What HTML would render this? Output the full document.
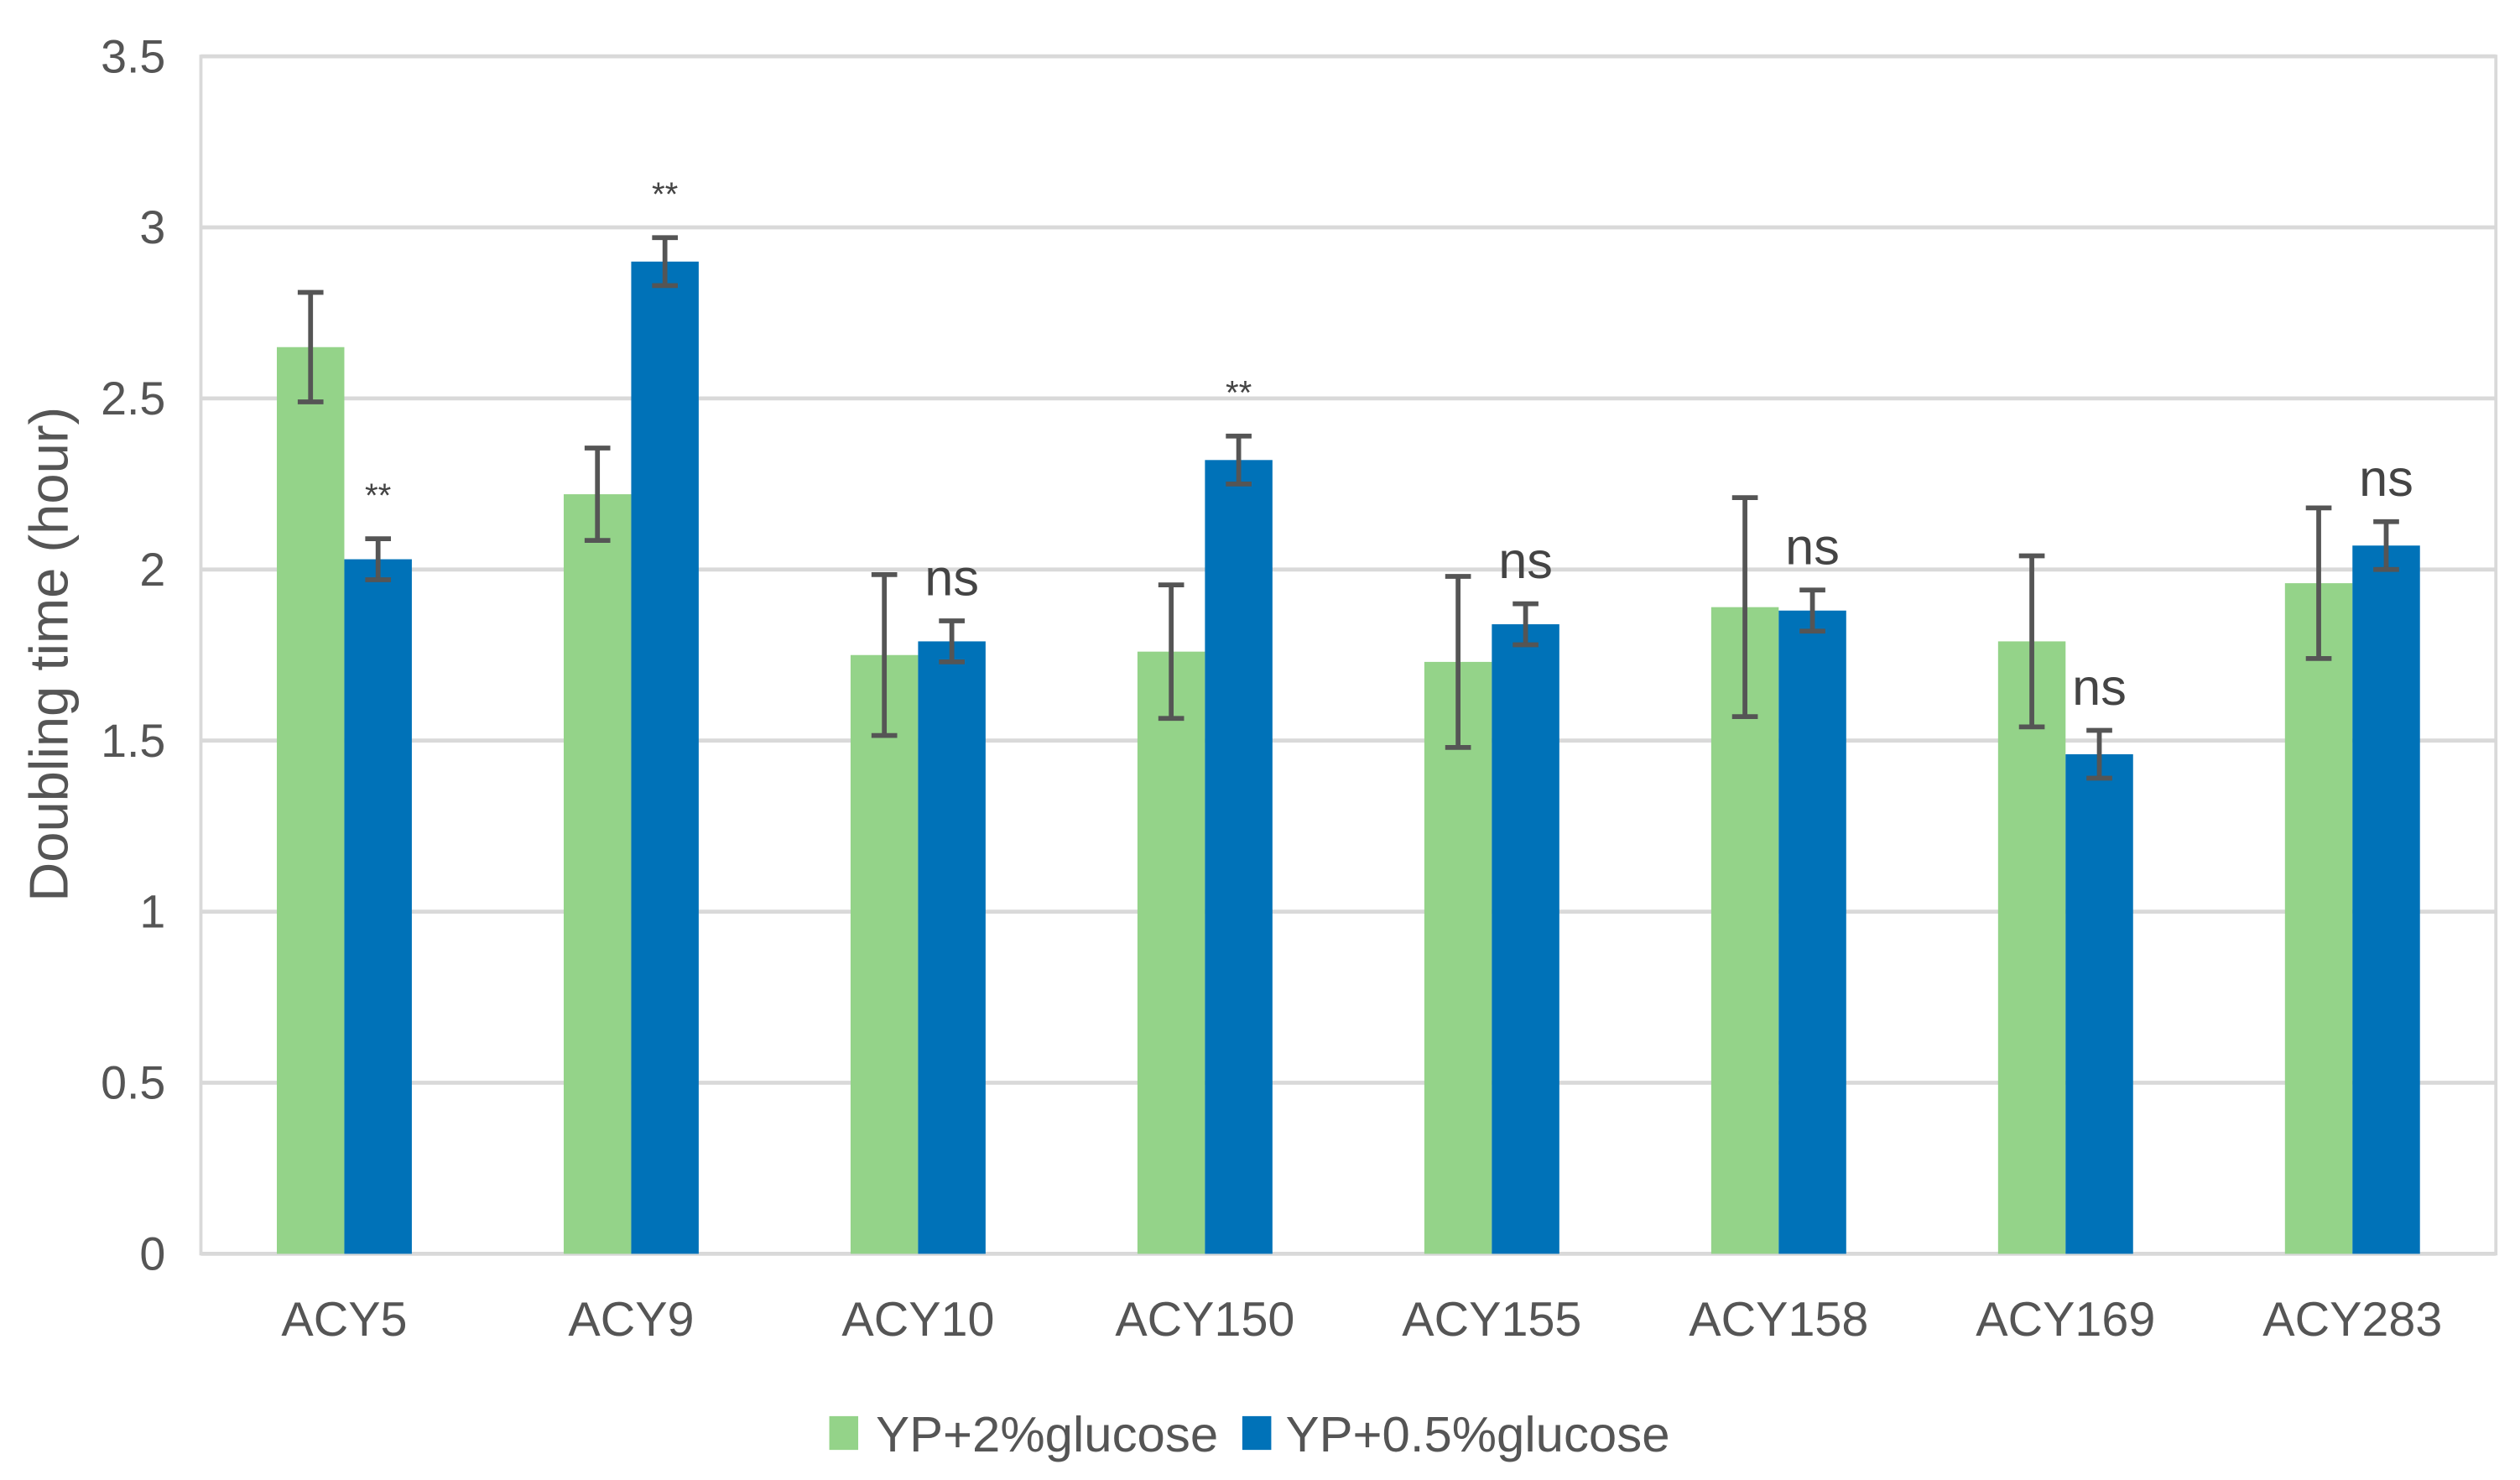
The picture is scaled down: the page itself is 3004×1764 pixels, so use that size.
<!DOCTYPE html>
<html><head><meta charset="utf-8"><style>
html,body{margin:0;padding:0;background:#fff;}
svg{display:block;font-family:"Liberation Sans",Arial,sans-serif;}
</style></head><body>
<svg id="chart" width="3004" height="1764" viewBox="0 0 1568 920.7" xmlns="http://www.w3.org/2000/svg"></svg>
<script>
const categories = ["ACY5","ACY9","ACY10","ACY150","ACY155","ACY158","ACY169","ACY283"];
const greenValues = [2.65,2.22,1.75,1.76,1.73,1.89,1.79,1.96];
const greenErrors = [0.16,0.135,0.235,0.195,0.25,0.32,0.25,0.22];
const blueValues = [2.03,2.90,1.79,2.32,1.84,1.88,1.46,2.07];
const blueErrors = [0.06,0.07,0.06,0.07,0.06,0.06,0.07,0.07];
const sigLabels = ["**","**","ns","**","ns","ns","ns","ns"];
const yTicks = [0,0.5,1,1.5,2,2.5,3,3.5];
const yTickLabels = ["0","0.5","1","1.5","2","2.5","3","3.5"];
const seriesNames = ["YP+2%glucose","YP+0.5%glucose"];

const svg = document.getElementById('chart');
const NS = 'http://www.w3.org/2000/svg';
const L=125, R=1553, T=35, B=780, yMax=3.5;
const y = v => B - (v / yMax) * (B - T);
const band = (R - L) / categories.length;
const xc = i => L + band * (i + 0.5);
const barW = 42;
function mk(tag, attrs, parent){
  const e = document.createElementNS(NS, tag);
  for (const k in attrs) e.setAttribute(k, attrs[k]);
  (parent || svg).appendChild(e);
  return e;
}
yTicks.forEach((t,i)=>{
  const g = mk('line',{x1:L,x2:R,y1:y(t),y2:y(t),stroke:'#d9d9d9','stroke-width':2.5});
  
  
  const lab = mk('text',{x:103,y:y(t)+10,'text-anchor':'end','font-size':29,fill:'#555'});
  lab.textContent = yTickLabels[i];
  
  
});
const frame = mk('rect',{x:L,y:T,width:R-L,height:B-T,fill:'none',stroke:'#d9d9d9','stroke-width':2});


categories.forEach((c,i)=>{
  const cx = xc(i);
  const gb = mk('rect',{x:cx-barW,y:y(greenValues[i]),width:barW,height:B-y(greenValues[i]),fill:'#94d389'});
  
  
  const bb = mk('rect',{x:cx,y:y(blueValues[i]),width:barW,height:B-y(blueValues[i]),fill:'#0072b8'});
  
  
  [[cx-barW/2,greenValues[i],greenErrors[i],'green'],[cx+barW/2,blueValues[i],blueErrors[i],'blue']].forEach(([ex,v,e,s])=>{
    const g = mk('g',{stroke:'#555','stroke-width':3});
    
    
    mk('line',{x1:ex,x2:ex,y1:y(v+e),y2:y(v-e)},g);
    mk('line',{x1:ex-8,x2:ex+8,y1:y(v+e),y2:y(v+e)},g);
    mk('line',{x1:ex-8,x2:ex+8,y1:y(v-e),y2:y(v-e)},g);
  });
  const top = y(blueValues[i]+blueErrors[i]);
  const isStar = sigLabels[i]==='**';
  const sl = mk('text',{x:cx+barW/2,y:isStar?top-20:top-16,'text-anchor':'middle','font-size':isStar?21:32,fill:'#444'});
  sl.textContent = sigLabels[i];
  
  
  const xl = mk('text',{x:cx,y:831,'text-anchor':'middle','font-size':30,fill:'#555'});
  xl.textContent = c;
  
  
});
const at = mk('text',{x:0,y:0,transform:'translate(42,407) rotate(-90)','text-anchor':'middle','font-size':34,fill:'#555'});
at.textContent = 'Doubling time (hour)';


const lg = mk('g',{});


const s1 = mk('rect',{x:516,y:881,width:18,height:21,fill:'#94d389'},lg);


const t1 = mk('text',{x:545,y:903,'font-size':31,fill:'#555',textLength:213,lengthAdjust:'spacingAndGlyphs'},lg);
t1.textContent = seriesNames[0];


const s2 = mk('rect',{x:773,y:881,width:18,height:21,fill:'#0072b8'},lg);


const t2 = mk('text',{x:800,y:903,'font-size':31,fill:'#555',textLength:239,lengthAdjust:'spacingAndGlyphs'},lg);
t2.textContent = seriesNames[1];


</script>
</body></html>
